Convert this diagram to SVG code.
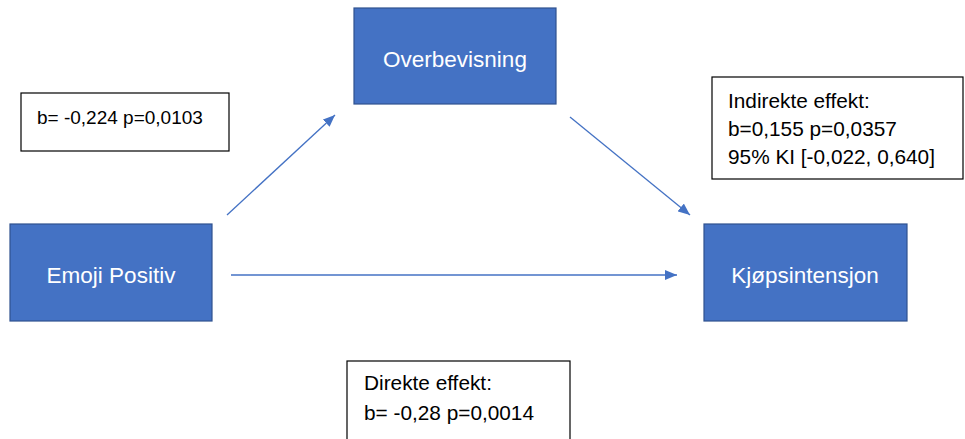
<svg xmlns="http://www.w3.org/2000/svg" width="965" height="439" viewBox="0 0 965 439">
<defs>
<style>
.node{fill:#4472C4;stroke:#2F528F;stroke-width:1.2}
.nt{font-family:"Liberation Sans",Arial,sans-serif;font-size:22.5px;fill:#ffffff;text-anchor:middle}
.box{fill:#ffffff;stroke:#000000;stroke-width:1.2}
.lt{font-family:"Liberation Sans",Arial,sans-serif;font-size:20.8px;fill:#000000}
.edge{stroke:#4472C4;stroke-width:1.3;fill:none;marker-end:url(#ah)}
</style>
<marker id="ah" viewBox="0 0 12 10" refX="12" refY="5" markerWidth="12" markerHeight="10" markerUnits="userSpaceOnUse" orient="auto">
<path d="M0,0 L12,5 L0,10 Z" fill="#4472C4"/>
</marker>
</defs>
<rect width="965" height="439" fill="#ffffff"/>
<g id="connectors">
<line class="edge" x1="227" y1="215" x2="335" y2="115"/>
<line class="edge" x1="570" y1="117" x2="690" y2="215"/>
<line class="edge" x1="231" y1="275" x2="677" y2="275"/>
</g>
<g id="overbevisning">
<rect class="node" x="354" y="8" width="202" height="96"/>
<text class="nt" x="455" y="67">Overbevisning</text>
</g>
<g id="emoji-positiv">
<rect class="node" x="10" y="224" width="202" height="97"/>
<text class="nt" x="111" y="283">Emoji Positiv</text>
</g>
<g id="kjopsintensjon">
<rect class="node" x="704" y="224" width="203" height="97"/>
<text class="nt" x="805" y="283">Kjøpsintensjon</text>
</g>
<g id="label-a">
<rect class="box" x="21" y="93" width="208" height="58"/>
<text class="lt" x="37" y="124" style="font-size:19px">b= -0,224 p=0,0103</text>
</g>
<g id="label-indirekte">
<rect class="box" x="712" y="77" width="251" height="102"/>
<text class="lt" x="728" y="108">Indirekte effekt:</text>
<text class="lt" x="728" y="136">b=0,155 p=0,0357</text>
<text class="lt" x="728" y="164">95% KI [-0,022, 0,640]</text>
</g>
<g id="label-direkte">
<rect class="box" x="347" y="361" width="223" height="90"/>
<text class="lt" x="364" y="390">Direkte effekt:</text>
<text class="lt" x="364" y="420">b= -0,28 p=0,0014</text>
</g>
</svg>
